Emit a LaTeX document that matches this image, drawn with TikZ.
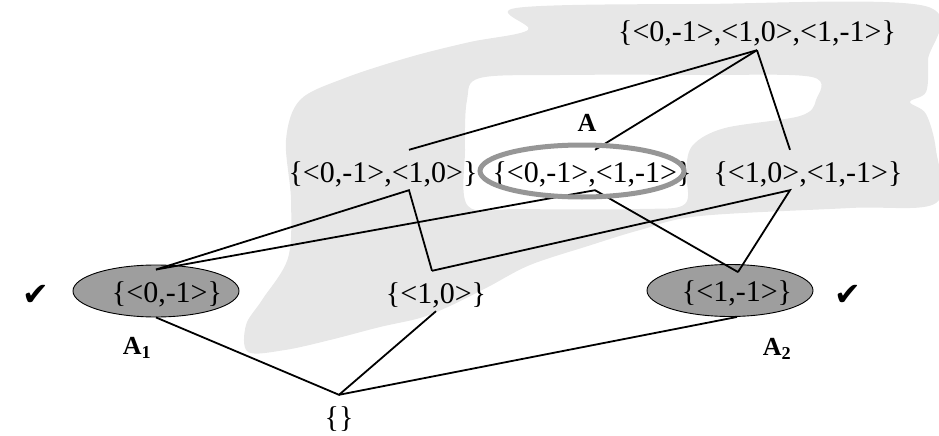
\documentclass[tikz,border=0pt]{standalone}
\usepackage{fontspec}
\setmainfont{Liberation Serif}
\newfontfamily\tickfont{DejaVu Sans}
\usepackage{tikz}
\usetikzlibrary{shapes.geometric}
\definecolor{blobgray}{RGB}{231,231,231}
\definecolor{singlegray}{RGB}{158,158,158}
\definecolor{ringgray}{RGB}{150,150,150}

\begin{document}
\begin{tikzpicture}[x=1pt,y=-1pt,
  setlabel/.style={font=\fontsize{30}{33}\selectfont,inner sep=0pt,
    text height=32pt,text depth=8pt},
  singleton/.style={ellipse,draw=black,line width=0.9pt,fill=singlegray,
    minimum width=166pt,minimum height=52pt,inner sep=0pt},
  cover/.style={black,line width=1.8pt},
  namelabel/.style={font=\fontsize{26}{28}\selectfont\bfseries,inner sep=0pt},
  tick/.style={font=\fontsize{32}{34}\tickfont,inner sep=0pt}]

  \useasboundingbox (0,0) rectangle (939,436);

  % ── GREY REGION ───────────────────────────────────────────────────────────
  % hand-drawn blob with a white hole round A
  \fill[blobgray,even odd rule]
    plot[smooth cycle,tension=0.55] coordinates {
      (516,8) (700,4) (925,6) (928,60) (926,92) (910,102) (926,114)
      (936,150) (936,203) (850,208) (700,216) (640,230) (588,246)
      (530,265) (488,287) (450,306) (420,318) (380,327) (330,340)
      (285,350) (248,352) (246,325) (262,300) (288,258) (291,200)
      (286,140) (300,100) (345,78) (410,57) (470,42) (528,30)}
    plot[smooth cycle,tension=0.55] coordinates {
      (467,100) (480,78) (560,75) (700,75) (812,77) (816,100) (800,116)
      (725,128) (693,145) (686,170) (685,204) (640,209) (520,209)
      (468,206) (465,150)};

  % ── SINGLETONS A1, A2 ─────────────────────────────────────────────────────
  \node[singleton] (oneA1) at (156,291) {};
  \node[singleton] (oneA2) at (730,290.5) {};

  % ── SET NODES ─────────────────────────────────────────────────────────────
  \node[setlabel] (top)   at (757,30)  {\{<0,-1>,<1,0>,<1,-1>\}};
  \node[setlabel] (pairL) at (383,170) {\{<0,-1>,<1,0>\}};
  \node[setlabel] (pairA) at (592,170) {\{<0,-1>,<1,-1>\}};
  \node[setlabel] (pairR) at (808,170) {\{<1,0>,<1,-1>\}};
  \node[setlabel] (txtA1) at (167,290) {\{<0,-1>\}};
  \node[setlabel] (oneB)  at (436,291) {\{<1,0>\}};
  \node[setlabel] (txtA2) at (737,289) {\{<1,-1>\}};
  \node[setlabel] (emptyset) at (339,415) {\{\}};

  % ── COVER LINES ───────────────────────────────────────────────────────────
  \draw[cover] (top.south) -- ([xshift=26pt]pairL.north);
  \draw[cover] (top.south) -- ([xshift=3pt]pairA.north);
  \draw[cover] (top.south) -- ([xshift=-18pt]pairR.north);

  \draw[cover] ([yshift=-5pt]oneA1.north) -- ([xshift=26pt]pairL.south)
    -- ([xshift=-4pt]oneB.north);
  \draw[cover] ([yshift=-5pt]oneA1.north) -- ([xshift=3pt]pairA.south)
    -- ([xshift=8pt,yshift=-8pt]oneA2.north);
  \draw[cover] ([xshift=-4pt]oneB.north) -- ([xshift=-18pt]pairR.south)
    -- ([xshift=8pt,yshift=-8pt]oneA2.north);

  \draw[cover] (oneA1.south) -- (emptyset.north) -- (oneB.south);
  \draw[cover] (emptyset.north) -- ([xshift=7pt]oneA2.south);

  % ── THE SET A ─────────────────────────────────────────────────────────────
  \node[ellipse,draw=ringgray,line width=5pt,minimum width=204pt,
    minimum height=52pt,inner sep=0pt] (ringA) at (582,171) {};

  % ── LABELS ────────────────────────────────────────────────────────────────
  \node[namelabel] (labA)  at (587,123) {A};
  \node[namelabel] (labA1) at (137,348) {A\textsubscript{1}};
  \node[namelabel] (labA2) at (777,349) {A\textsubscript{2}};
  \node[tick] (tickL) at (36,295)  {✔};
  \node[tick] (tickR) at (848,295) {✔};

\end{tikzpicture}
\end{document}
